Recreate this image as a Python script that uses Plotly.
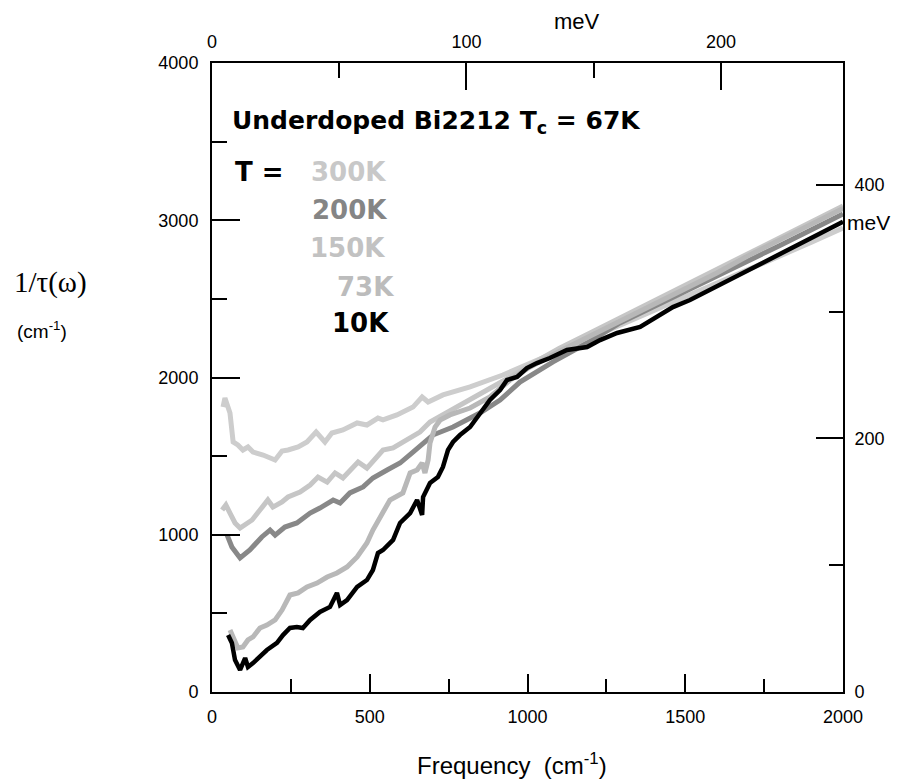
import plotly.graph_objects as go

CM_PER_MEV = 8.0655

# ---- data (frequency in cm^-1, 1/tau in cm^-1) ----
x_300K = [35, 41, 57, 67, 82, 98, 114, 130, 162, 177, 200, 222, 241, 273, 301, 330, 358, 380, 415, 460,
          491, 526, 542, 586, 605, 637, 666, 685, 732, 818, 922, 1008, 1100, 1200, 1300, 1400, 1500,
          1600, 1700, 1800, 1900, 2000]
y_300K = [1812, 1870, 1774, 1590, 1571, 1539, 1558, 1526, 1507, 1494, 1475, 1533, 1539, 1558, 1590, 1653,
          1590, 1647, 1666, 1711, 1698, 1742, 1730, 1762, 1781, 1812, 1876, 1844, 1889, 1940, 2016, 2092,
          2170, 2252, 2338, 2424, 2510, 2600, 2690, 2775, 2860, 2950]

x_200K = [48, 63, 89, 120, 158, 184, 200, 231, 269, 311, 342, 384, 406, 437, 479, 510, 555, 596, 637, 700,
          764, 849, 913, 976, 1081, 1189, 1293, 1398, 1506, 1600, 1700, 1800, 1900, 2000]
y_200K = [998, 922, 852, 903, 986, 1030, 998, 1049, 1075, 1138, 1170, 1221, 1202, 1266, 1304, 1361, 1412,
          1456, 1526, 1634, 1685, 1774, 1857, 1971, 2099, 2219, 2347, 2448, 2560, 2650, 2745, 2840, 2940, 3040]

x_150K = [32, 44, 57, 73, 89, 105, 127, 152, 177, 193, 222, 241, 279, 311, 336, 365, 390, 415, 447, 463,
          491, 523, 542, 574, 618, 659, 691, 732, 796, 872, 945, 1008, 1100, 1200, 1300, 1400, 1500, 1600,
          1700, 1800, 1900, 2000]
y_150K = [1157, 1189, 1138, 1075, 1043, 1062, 1094, 1157, 1221, 1176, 1208, 1240, 1272, 1316, 1367, 1335,
          1393, 1361, 1431, 1463, 1424, 1494, 1539, 1552, 1603, 1653, 1717, 1762, 1838, 1920, 2003, 2080,
          2185, 2285, 2385, 2485, 2585, 2685, 2785, 2885, 2985, 3090]

x_73K = [57, 67, 82, 98, 114, 130, 152, 174, 200, 222, 247, 273, 301, 333, 365, 396, 428, 460, 491, 510,
         532, 564, 605, 628, 650, 666, 675, 685, 691, 707, 723, 754, 818, 881, 945, 1008, 1100, 1200, 1300,
         1400, 1500, 1600, 1700, 1800, 1900, 2000]
y_73K = [394, 350, 280, 286, 331, 350, 407, 426, 458, 521, 617, 630, 668, 693, 731, 757, 795, 859, 948, 1030,
         1113, 1221, 1266, 1393, 1412, 1456, 1393, 1475, 1583, 1685, 1730, 1762, 1806, 1876, 1984, 2067,
         2165, 2265, 2365, 2465, 2565, 2665, 2775, 2875, 2975, 3075]

x_10K = [51, 63, 73, 89, 105, 114, 130, 152, 174, 206, 225, 247, 269, 288, 311, 342, 374, 396, 406, 428,
         460, 491, 510, 526, 542, 574, 596, 628, 650, 666, 669, 691, 716, 732, 748, 764, 786, 818, 849, 881,
         913, 935, 967, 998, 1030, 1071, 1125, 1189, 1230, 1284, 1357, 1410, 1461, 1515, 1600, 1700, 1800,
         1900, 2000]
y_10K = [362, 312, 203, 140, 216, 159, 184, 223, 267, 312, 362, 407, 413, 407, 458, 509, 541, 630, 553, 585,
         668, 712, 776, 884, 903, 967, 1075, 1138, 1221, 1126, 1240, 1329, 1367, 1431, 1539, 1590, 1634,
         1685, 1774, 1857, 1920, 1984, 2003, 2060, 2092, 2124, 2175, 2194, 2238, 2283, 2321, 2385, 2448,
         2493, 2580, 2680, 2780, 2880, 2990]

series = [
    ("300K", x_300K, y_300K, "#cdcdcd", 5),
    ("150K", x_150K, y_150K, "#c6c6c6", 5),
    ("200K", x_200K, y_200K, "#888888", 5),
    ("73K", x_73K, y_73K, "#b8b8b8", 5),
    ("10K", x_10K, y_10K, "#000000", 4.5),
]

legend_labels = ["300K", "200K", "150K", "73K", "10K"]
legend_colors = ["#c8c8c8", "#858585", "#c2c2c2", "#bcbcbc", "#000000"]
legend_pos = [(309, 172), (310, 210), (308, 248), (335, 287), (330, 323)]

x_ticks = [0, 500, 1000, 1500, 2000]
y_ticks = [0, 1000, 2000, 3000, 4000]
mev_top_ticks = [0, 100, 200]
mev_right_ticks = [0, 200, 400]

# ---- figure ----
fig = go.Figure()
for name, xs, ys, col, w in series:
    fig.add_trace(go.Scatter(x=xs, y=ys, mode="lines", name=name,
                             line=dict(color=col, width=w), showlegend=False))

# invisible helper trace so the meV axes (top / right) are drawn
fig.add_trace(go.Scatter(x=[0], y=[0], xaxis="x2", yaxis="y2", mode="markers",
                         marker=dict(opacity=0), hoverinfo="skip", showlegend=False))

OFF = 8  # page body margin in the browser
L, R, T, B = 212, 843, 63, 692   # target screen positions of the plot frame
W, H = R - L, B - T


def px(x):
    return (x - L) / W


def py(y):
    return (B - y) / H


tickfont = dict(family="Liberation Sans, Arial, sans-serif", size=18, color="black")
common = dict(showgrid=False, zeroline=False, showline=True, linecolor="black", linewidth=2,
              ticks="inside", tickcolor="black", tickwidth=1.5, tickfont=tickfont)

fig.update_layout(
    width=920, height=782,
    margin=dict(l=L - OFF, r=920 - (R - OFF), t=T - OFF, b=782 - (B - OFF)),
    paper_bgcolor="white", plot_bgcolor="white",
    xaxis=dict(range=[0, 2000], tickvals=x_ticks, ticklen=18,
               minor=dict(dtick=250, ticks="inside", ticklen=13, tickcolor="black", tickwidth=1.5),
               ticklabelstandoff=7, **common),
    yaxis=dict(range=[0, 4000], tickvals=y_ticks, ticklen=28,
               minor=dict(dtick=500, ticks="inside", ticklen=15, tickcolor="black", tickwidth=1.5),
               ticklabelstandoff=8, **common),
    xaxis2=dict(range=[0, 2000 / CM_PER_MEV], overlaying="x", side="top", anchor="y",
                tickvals=mev_top_ticks, ticklen=27,
                minor=dict(dtick=50, ticks="inside", ticklen=15, tickcolor="black", tickwidth=1.5),
                ticklabelstandoff=6, **common),
    yaxis2=dict(range=[0, 4000 / CM_PER_MEV], overlaying="y", side="right", anchor="x",
                tickvals=mev_right_ticks, ticklen=27,
                minor=dict(dtick=100, ticks="inside", ticklen=14, tickcolor="black", tickwidth=1.5),
                ticklabelstandoff=6, **common),
)

ann = []
sans = "Liberation Sans, Arial, sans-serif"
bold = "DejaVu Sans, sans-serif"
ann.append(dict(x=px(512), y=py(764), text="Frequency  (cm<sup>-1</sup>)",
                font=dict(family=sans, size=24, color="black")))
ann.append(dict(x=px(577), y=py(22), text="meV", font=dict(family=sans, size=22, color="black")))
ann.append(dict(x=px(845), y=py(222), text="meV", xanchor="left",
                font=dict(family=sans, size=21, color="black")))
ann.append(dict(x=px(50), y=py(282), text="1/τ(ω)",
                font=dict(family="Liberation Serif, Times New Roman, serif", size=29, color="black")))
ann.append(dict(x=px(42), y=py(330), text="(cm<sup>-1</sup>)",
                font=dict(family=sans, size=19, color="black")))
ann.append(dict(x=px(230), y=py(122), xanchor="left",
                text="<b>Underdoped Bi2212 T<sub>c</sub> = 67K</b>",
                font=dict(family=bold, size=25, color="black")))
ann.append(dict(x=px(233), y=py(172), xanchor="left", text="<b>T =</b>",
                font=dict(family=bold, size=26, color="black")))
for lab, col, (lx, ly) in zip(legend_labels, legend_colors, legend_pos):
    ann.append(dict(x=px(lx), y=py(ly), xanchor="left", text=f"<b>{lab}</b>",
                    font=dict(family=bold, size=26, color=col)))

for a in ann:
    a.update(xref="paper", yref="paper", showarrow=False)
    a.setdefault("xanchor", "center")
    a.setdefault("yanchor", "middle")
fig.update_layout(annotations=ann)

fig.write_html("out.html")
